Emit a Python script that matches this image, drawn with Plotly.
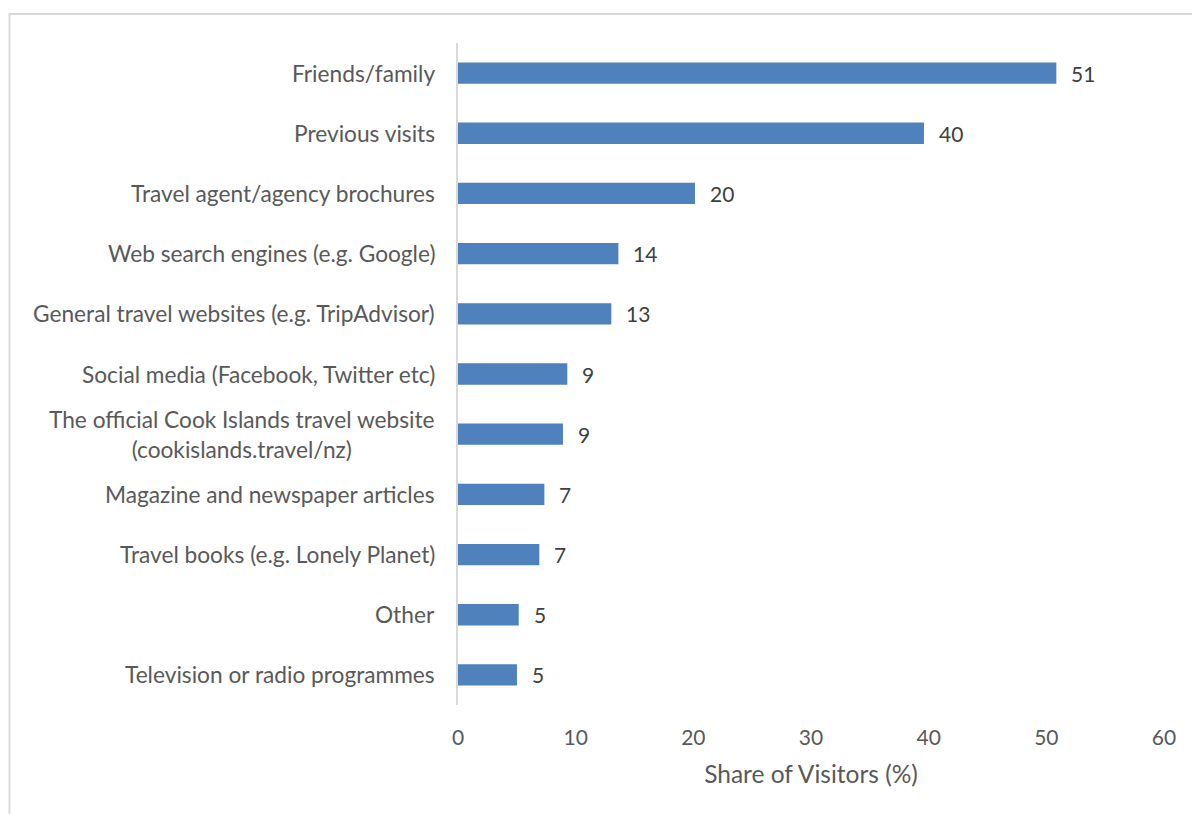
import plotly.graph_objects as go

# Sources of information used by visitors, listed top to bottom
categories = [
    "Friends/family",
    "Previous visits",
    "Travel agent/agency brochures",
    "Web search engines (e.g. Google)",
    "General travel websites (e.g. TripAdvisor)",
    "Social media (Facebook, Twitter etc)",
    "The official Cook Islands travel website<br>(cookislands.travel/nz)",
    "Magazine and newspaper articles",
    "Travel books (e.g. Lonely Planet)",
    "Other",
    "Television or radio programmes",
]
share = [50.85, 39.6, 20.14, 13.63, 13.03, 9.29, 8.92, 7.34, 6.91, 5.16, 5.01]
x_ticks = [0, 10, 20, 30, 40, 50, 60]

FONT = "Lato"
LABEL_GREY = "#595959"
VALUE_GREY = "#404040"
BAR_BLUE = "#4F81BD"

fig = go.Figure()
fig.add_trace(go.Bar(
    x=share,
    y=categories,
    orientation="h",
    marker=dict(color=BAR_BLUE, line=dict(width=0)),
    hoverinfo="skip",
))

annotations = []
# value labels just past each bar end
for cat, v in zip(categories, share):
    annotations.append(dict(
        x=v, y=cat, xref="x", yref="y",
        text=f"{round(v):d}", showarrow=False,
        xanchor="left", xshift=13,
        font=dict(family=FONT, size=21, color=VALUE_GREY),
    ))
# category labels, centred line by line, right-aligned against the axis
for cat in categories:
    annotations.append(dict(
        x=0, y=cat, xref="paper", yref="y",
        text=cat, showarrow=False,
        xanchor="right", xshift=-21, align="center",
        font=dict(family=FONT, size=22.7, color=LABEL_GREY),
    ))

fig.update_layout(
    width=1192,
    height=814,
    margin=dict(l=458, r=28, t=43, b=109),
    paper_bgcolor="white",
    plot_bgcolor="white",
    showlegend=False,
    bargap=0.646,
    annotations=annotations,
    shapes=[dict(
        type="rect", xref="paper", yref="paper",
        x0=-0.6353, x1=1.05, y0=-0.2, y1=1.0438,
        line=dict(color="#d9d9d9", width=2),
        fillcolor="rgba(0,0,0,0)", layer="below",
    )],
    xaxis=dict(
        range=[0, 60],
        tickvals=x_ticks,
        showgrid=False,
        zeroline=False,
        showline=False,
        ticks="",
        ticklabelstandoff=18,
        tickfont=dict(family=FONT, size=21, color=LABEL_GREY),
        title=dict(
            text="Share of Visitors (%)",
            font=dict(family=FONT, size=24.5, color=LABEL_GREY),
            standoff=17,
        ),
    ),
    yaxis=dict(
        autorange="reversed",
        showticklabels=False,
        showgrid=False,
        zeroline=False,
        showline=True,
        linecolor="#d9d9d9",
        linewidth=2,
        ticks="",
    ),
)

fig.write_html("out.html")
